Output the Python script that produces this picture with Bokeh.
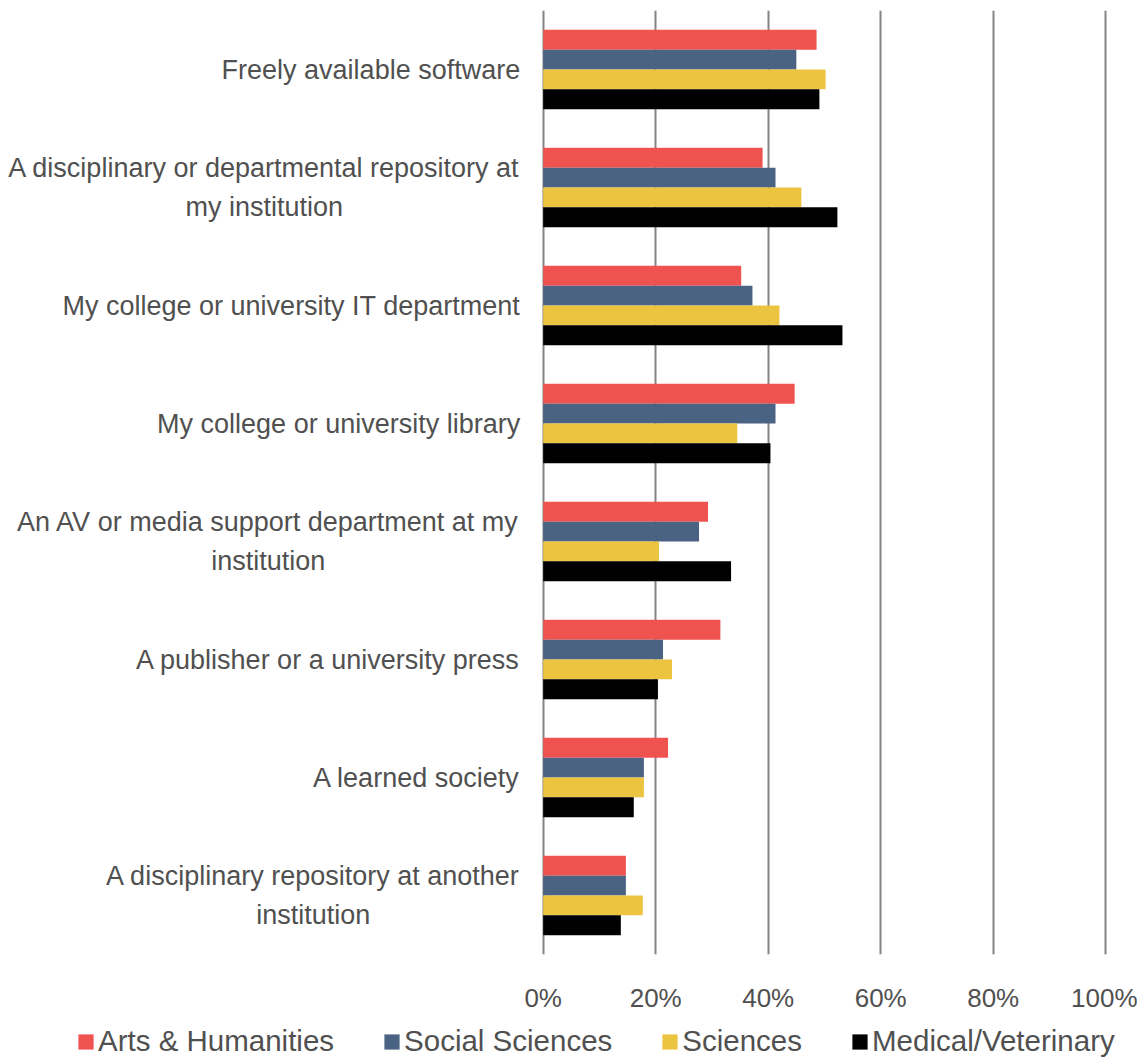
from bokeh.plotting import figure
from bokeh.layouts import column
from bokeh.models import Range1d, FixedTicker, Legend, LegendItem, ColumnDataSource, PrintfTickFormatter
from bokeh.embed import file_html
from bokeh.resources import INLINE

categories = [
    "Freely available software",
    "A disciplinary or departmental repository at\nmy institution",
    "My college or university IT department",
    "My college or university library",
    "An AV or media support department at my\ninstitution",
    "A publisher or a university press",
    "A learned society",
    "A disciplinary repository at another\ninstitution",
]
series_names = ["Arts & Humanities", "Social Sciences", "Sciences", "Medical/Veterinary"]
arts = [48.6, 39.0, 35.2, 44.7, 29.3, 31.5, 22.2, 14.7]
social = [45.0, 41.3, 37.2, 41.3, 27.7, 21.3, 17.9, 14.7]
sciences = [50.2, 45.9, 42.0, 34.5, 20.6, 22.9, 17.9, 17.7]
medical = [49.1, 52.3, 53.2, 40.4, 33.4, 20.4, 16.1, 13.8]
x_ticks = [0, 20, 40, 60, 80, 100]

colors = ["#EF5350", "#4B6383", "#ECC440", "#000000"]
FONT = "Liberation Sans"
TXT = "#505050"

W = 1137
PX_PER_UNIT = 5.625          # pixels per percentage point
ZERO_PX = 542.7              # screen x of the 0% line
x_start = -ZERO_PX / PX_PER_UNIT
x_end = x_start + W / PX_PER_UNIT

p = figure(width=W, height=1015, output_backend="svg", toolbar_location=None,
           x_range=Range1d(x_start, x_end), y_range=Range1d(len(categories) - 0.5, -0.5),
           min_border_left=0, min_border_right=0, min_border_top=10, min_border_bottom=55)
p.outline_line_color = None
p.background_fill_color = "white"
p.border_fill_color = "white"

bar_h = 0.168
idx = list(range(len(categories)))
renderers = []
for k, (vals, col) in enumerate(zip([arts, social, sciences, medical], colors)):
    off = (k - 1.5) * bar_h
    src = ColumnDataSource(dict(y=[i + off for i in idx], x=vals))
    r = p.hbar(y="y", right="x", left=0, height=bar_h, source=src, fill_color=col, line_color=None)
    renderers.append(r)

p.xgrid.ticker = FixedTicker(ticks=x_ticks)
p.xgrid.grid_line_color = "#838383"
p.xgrid.grid_line_width = 2
p.ygrid.grid_line_color = None

p.xaxis.ticker = FixedTicker(ticks=x_ticks)
p.xaxis.formatter = PrintfTickFormatter(format="%d%%")
p.xaxis.axis_line_color = None
p.xaxis.major_tick_line_color = None
p.xaxis.minor_tick_line_color = None
p.xaxis.major_label_standoff = 22
p.xaxis.major_label_text_font = FONT
p.xaxis.major_label_text_font_size = "26px"
p.xaxis.major_label_text_color = TXT
p.yaxis.visible = False

# category labels, drawn at the 0% line and offset to the left
wrap_offsets = {1: -279, 4: -275, 7: -230}
lab = ColumnDataSource(dict(
    y=idx,
    x=[0] * len(idx),
    text=categories,
    align=["center" if "\n" in c else "right" for c in categories],
    xoff=[wrap_offsets.get(i, -23) for i in idx],
))
p.text(x="x", y="y", text="text", source=lab, text_align="align", x_offset="xoff",
       text_baseline="middle", text_font={"value": FONT}, text_font_size={"value": "27px"},
       text_color=TXT, text_line_height=1.3)

# legend strip below the chart (proxy renderers sit outside its visible range)
lg = figure(width=W, height=45, output_backend="svg", toolbar_location=None,
            x_range=Range1d(0, 1), y_range=Range1d(0, 1),
            min_border_left=0, min_border_right=0, min_border_top=0, min_border_bottom=0)
lg.outline_line_color = None
lg.xaxis.visible = False
lg.yaxis.visible = False
lg.xgrid.visible = False
lg.ygrid.visible = False
proxies = [lg.hbar(y=[-5], right=[-5], left=[-6], height=1, fill_color=c, line_color=None) for c in colors]
legend = Legend(items=[LegendItem(label=n, renderers=[r]) for n, r in zip(series_names, proxies)],
                orientation="horizontal", location=(76, 2),
                glyph_width=19, glyph_height=19, label_standoff=3, spacing=48,
                padding=0, margin=0, border_line_color=None, background_fill_alpha=0,
                label_text_font=FONT, label_text_font_size="29.5px", label_text_color=TXT,
                label_height=30)
lg.add_layout(legend, "center")

layout = column(p, lg, spacing=0)
open("out.html", "w").write(file_html(layout, INLINE))
